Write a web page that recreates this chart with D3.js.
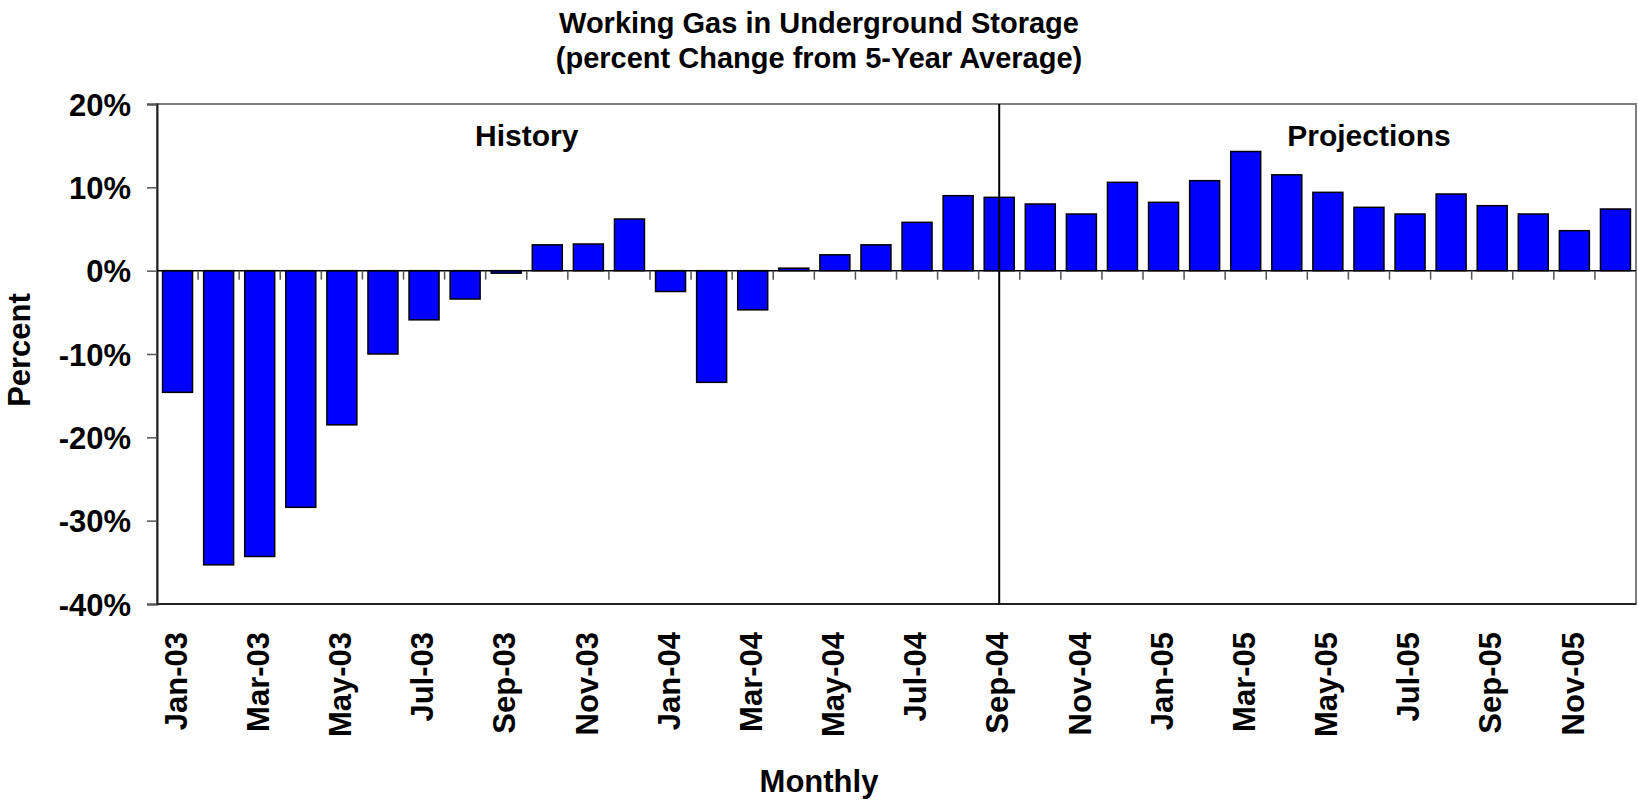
<!DOCTYPE html>
<html>
<head>
<meta charset="utf-8">
<script src="https://cdn.jsdelivr.net/npm/d3@7"></script>
<style>
  body { margin: 0; background: #fff; }
  text { font-family: "Liberation Sans", Arial, sans-serif; font-weight: bold; fill: #000; }
</style>
</head>
<body>
<div id="vizDiv"></div>
<script>
var width = 1638
var height = 800

// chart data
var months = ["Jan-03","Feb-03","Mar-03","Apr-03","May-03","Jun-03","Jul-03","Aug-03","Sep-03","Oct-03","Nov-03","Dec-03",
              "Jan-04","Feb-04","Mar-04","Apr-04","May-04","Jun-04","Jul-04","Aug-04","Sep-04","Oct-04","Nov-04","Dec-04",
              "Jan-05","Feb-05","Mar-05","Apr-05","May-05","Jun-05","Jul-05","Aug-05","Sep-05","Oct-05","Nov-05","Dec-05"]
var pctChange = [-14.6, -35.3, -34.3, -28.4, -18.5, -10.0, -5.9, -3.4, -0.3, 3.1, 3.2, 6.2,
                 -2.5, -13.4, -4.7, 0.3, 1.9, 3.1, 5.8, 9.0, 8.8, 8.0, 6.8, 10.6,
                 8.2, 10.8, 14.3, 11.5, 9.4, 7.6, 6.8, 9.2, 7.8, 6.8, 4.8, 7.4]
var yTicks = [20, 10, 0, -10, -20, -30, -40]
var shownLabels = ["Jan-03","Mar-03","May-03","Jul-03","Sep-03","Nov-03","Jan-04","Mar-04","May-04","Jul-04","Sep-04","Nov-04",
                   "Jan-05","Mar-05","May-05","Jul-05","Sep-05","Nov-05"]
var splitMonth = "Sep-04"
var titleLines = ["Working Gas in Underground Storage", "(percent Change from 5-Year Average)"]

var plotLeft = 157, plotRight = 1636, plotTop = 104, plotBottom = 604

var svg = d3.select("#vizDiv")
  .append("svg")
  .attr("width", width)
  .attr("height", height)

var x = d3.scaleBand()
  .domain(months)
  .range([plotLeft, plotRight])
  .paddingInner(0.27)
  .paddingOuter(0.135)

var y = d3.scaleLinear()
  .domain([-40, 20])
  .range([plotBottom, plotTop])

var step = x.step()
var gap = step * 0.27 / 2

// title
svg.selectAll(".title")
  .data(titleLines)
  .enter().append("text")
  .attr("class", "title")
  .attr("x", 819)
  .attr("y", function(d, i) { return 33 + i * 35 })
  .attr("text-anchor", "middle")
  .style("font-size", "29px")
  .text(function(d) { return d })

// plot frame
svg.append("rect")
  .attr("x", plotLeft)
  .attr("y", plotTop)
  .attr("width", plotRight - plotLeft)
  .attr("height", plotBottom - plotTop)
  .attr("fill", "#fff")
  .attr("stroke", "#808080")
  .attr("stroke-width", 2)

// y axis
var yAxis = d3.axisLeft(y)
  .tickValues(yTicks)
  .tickSize(10)
  .tickPadding(16)
  .tickFormat(function(d) { return d + "%" })

var gy = svg.append("g")
  .attr("transform", "translate(" + plotLeft + ",0)")
  .call(yAxis)
gy.select(".domain").attr("stroke", "#222").attr("stroke-width", 2)
gy.selectAll(".tick line").attr("stroke", "#555").attr("stroke-width", 1.5)
gy.selectAll(".tick text").style("font-size", "31px").attr("dy", "0.36em")

// bottom border
svg.append("line")
  .attr("x1", plotLeft).attr("x2", plotRight)
  .attr("y1", plotBottom).attr("y2", plotBottom)
  .attr("stroke", "#222").attr("stroke-width", 2)

// bars
svg.selectAll(".bar")
  .data(pctChange)
  .enter().append("rect")
  .attr("class", "bar")
  .attr("x", function(d, i) { return x(months[i]) })
  .attr("width", x.bandwidth())
  .attr("y", function(d) { return y(Math.max(0, d)) })
  .attr("height", function(d) { return Math.max(1, Math.abs(y(d) - y(0))) })
  .attr("fill", "#0000ff")
  .attr("stroke", "#000")
  .attr("stroke-width", 1.5)

// zero line with month ticks
svg.append("line")
  .attr("x1", plotLeft).attr("x2", plotRight)
  .attr("y1", y(0)).attr("y2", y(0))
  .attr("stroke", "#000").attr("stroke-width", 1.5)

svg.selectAll(".mtick")
  .data(months.slice(1))
  .enter().append("line")
  .attr("class", "mtick")
  .attr("x1", function(d) { return x(d) - gap })
  .attr("x2", function(d) { return x(d) - gap })
  .attr("y1", y(0))
  .attr("y2", y(0) + 9)
  .attr("stroke", "#555")
  .attr("stroke-width", 1.5)

// history / projections split
var splitX = x(splitMonth) + x.bandwidth() / 2
svg.append("line")
  .attr("x1", splitX).attr("x2", splitX)
  .attr("y1", plotTop).attr("y2", plotBottom)
  .attr("stroke", "#000").attr("stroke-width", 2)

svg.append("text")
  .attr("x", x("Oct-03") - gap)
  .attr("y", 146)
  .attr("text-anchor", "middle")
  .style("font-size", "30px")
  .text("History")

svg.append("text")
  .attr("x", x("Jun-05") + x.bandwidth() / 2)
  .attr("y", 146)
  .attr("text-anchor", "middle")
  .style("font-size", "30px")
  .text("Projections")

// x labels
svg.selectAll(".xlabel")
  .data(shownLabels)
  .enter().append("text")
  .attr("class", "xlabel")
  .attr("transform", function(d) {
    return "translate(" + (x(d) + x.bandwidth() / 2 - 2) + ",632) rotate(-90)"
  })
  .attr("dy", "0.36em")
  .attr("text-anchor", "end")
  .style("font-size", "31px")
  .text(function(d) { return d })

// axis titles
svg.append("text")
  .attr("transform", "translate(30,350) rotate(-90)")
  .attr("text-anchor", "middle")
  .style("font-size", "31px")
  .text("Percent")

svg.append("text")
  .attr("x", 819)
  .attr("y", 792)
  .attr("text-anchor", "middle")
  .style("font-size", "31px")
  .text("Monthly")
</script>
</body>
</html>
